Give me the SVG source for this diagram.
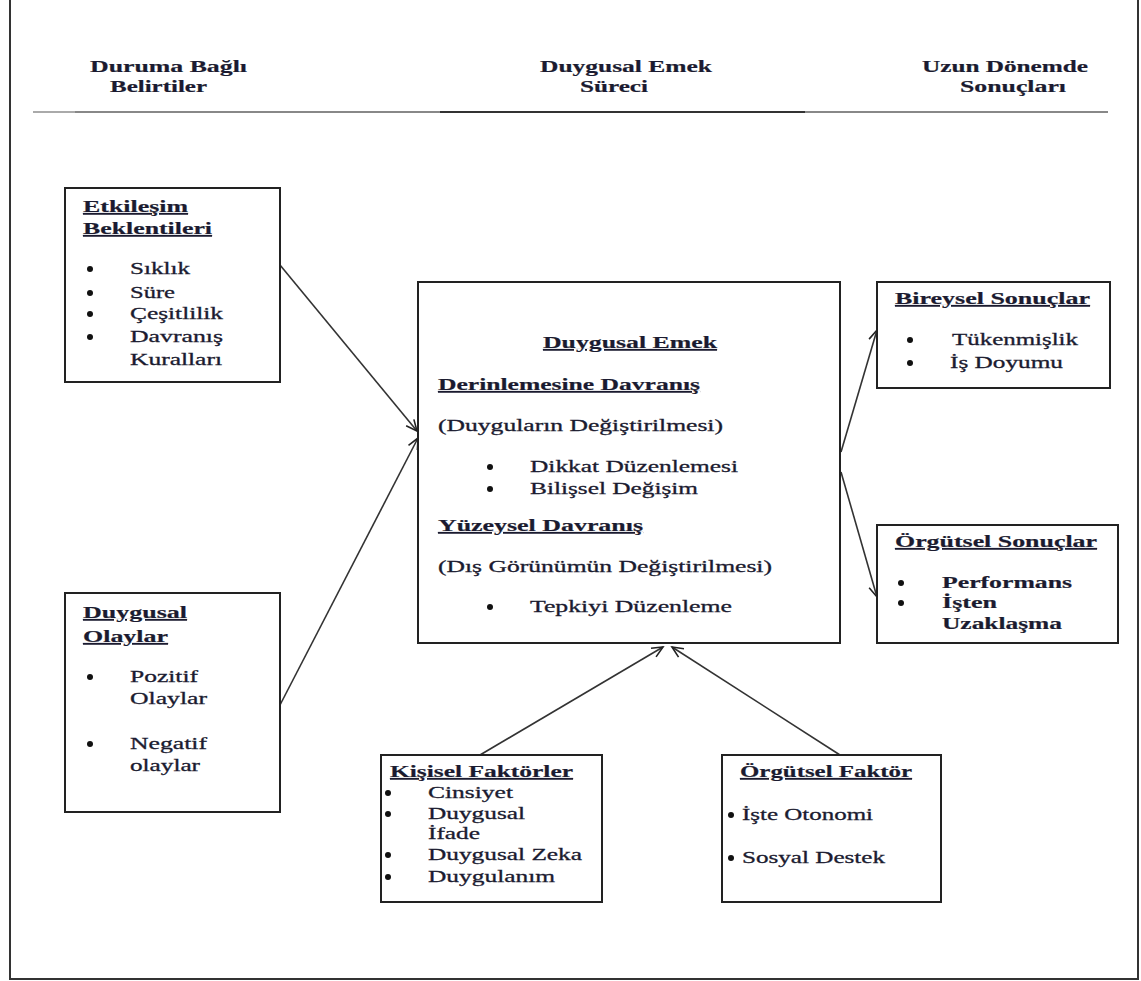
<svg xmlns="http://www.w3.org/2000/svg" width="1141" height="981" viewBox="0 0 1141 981">
  <style>
    .t { font-family: "Liberation Serif", "Times New Roman", serif; font-size: 17px; fill: #1b1b30; stroke: #1b1b30; stroke-width: 0.3; }
    .b { font-weight: bold; stroke-width: 0.2; }
    .u { font-weight: bold; text-decoration: underline; stroke-width: 0.2; }
    .box { fill: #ffffff; stroke: #222222; stroke-width: 2; }
    .conn { stroke: #333333; stroke-width: 1.6; fill: none; marker-end: url(#open); }
    .dot { fill: #111111; }
  </style>
  <defs>
    <marker id="open" markerUnits="userSpaceOnUse" markerWidth="16" markerHeight="14" refX="12" refY="6" orient="auto">
      <path d="M1,1 L12,6 L1,11" fill="none" stroke="#222222" stroke-width="1.6"/>
    </marker>
  </defs>

  <rect width="1141" height="981" fill="#ffffff"/>

  <!-- page frame -->
  <path d="M10,0 V979 H1138 V0" fill="none" stroke="#333333" stroke-width="2"/>

  <!-- column headings -->
  <g id="headings">
    <text class="t b" x="90" y="72" textLength="157" lengthAdjust="spacingAndGlyphs">Duruma Bağlı</text>
    <text class="t b" x="110" y="92" textLength="97" lengthAdjust="spacingAndGlyphs">Belirtiler</text>
    <text class="t b" x="540" y="72" textLength="172" lengthAdjust="spacingAndGlyphs">Duygusal Emek</text>
    <text class="t b" x="580" y="92" textLength="68" lengthAdjust="spacingAndGlyphs">Süreci</text>
    <text class="t b" x="922" y="72" textLength="166" lengthAdjust="spacingAndGlyphs">Uzun Dönemde</text>
    <text class="t b" x="960" y="92" textLength="106" lengthAdjust="spacingAndGlyphs">Sonuçları</text>
    <line x1="33" y1="112" x2="75" y2="112" stroke="#aaaaaa" stroke-width="2"/>
    <line x1="75" y1="112" x2="440" y2="112" stroke="#888888" stroke-width="2"/>
    <line x1="440" y1="112" x2="805" y2="112" stroke="#333333" stroke-width="2"/>
    <line x1="805" y1="112" x2="1108" y2="112" stroke="#888888" stroke-width="2"/>
  </g>

  <!-- connectors -->
  <g id="connectors">
    <line class="conn" x1="280" y1="265" x2="417" y2="431"/>
    <line class="conn" x1="280" y1="705" x2="418" y2="438"/>
    <line class="conn" x1="841" y1="452" x2="877" y2="330"/>
    <line class="conn" x1="841" y1="472" x2="877" y2="597"/>
    <line class="conn" x1="480" y1="755" x2="663" y2="647"/>
    <line class="conn" x1="840" y1="755" x2="672" y2="647"/>
  </g>

  <g id="etkilesim">
    <rect class="box" x="65" y="188" width="215" height="194"/>
    <text class="t u" x="83" y="212" textLength="105" lengthAdjust="spacingAndGlyphs">Etkileşim</text>
    <text class="t u" x="83" y="234" textLength="129" lengthAdjust="spacingAndGlyphs">Beklentileri</text>
    <circle class="dot" cx="90" cy="269" r="3"/>
    <circle class="dot" cx="90" cy="293" r="3"/>
    <circle class="dot" cx="90" cy="314" r="3"/>
    <circle class="dot" cx="90" cy="337" r="3"/>
    <text class="t" x="130" y="274" textLength="60" lengthAdjust="spacingAndGlyphs">Sıklık</text>
    <text class="t" x="130" y="298" textLength="45" lengthAdjust="spacingAndGlyphs">Süre</text>
    <text class="t" x="130" y="319" textLength="93" lengthAdjust="spacingAndGlyphs">Çeşitlilik</text>
    <text class="t" x="130" y="342" textLength="93" lengthAdjust="spacingAndGlyphs">Davranış</text>
    <text class="t" x="130" y="365" textLength="92" lengthAdjust="spacingAndGlyphs">Kuralları</text>
  </g>

  <g id="duygusal-olaylar">
    <rect class="box" x="65" y="593" width="215" height="219"/>
    <text class="t u" x="83" y="618" textLength="104" lengthAdjust="spacingAndGlyphs">Duygusal</text>
    <text class="t u" x="83" y="642" textLength="85" lengthAdjust="spacingAndGlyphs">Olaylar</text>
    <circle class="dot" cx="90" cy="677" r="3"/>
    <circle class="dot" cx="90" cy="744" r="3"/>
    <text class="t" x="130" y="682" textLength="68" lengthAdjust="spacingAndGlyphs">Pozitif</text>
    <text class="t" x="130" y="704" textLength="77" lengthAdjust="spacingAndGlyphs">Olaylar</text>
    <text class="t" x="130" y="749" textLength="77" lengthAdjust="spacingAndGlyphs">Negatif</text>
    <text class="t" x="130" y="771" textLength="70" lengthAdjust="spacingAndGlyphs">olaylar</text>
  </g>

  <g id="duygusal-emek">
    <rect class="box" x="418" y="282" width="422" height="361"/>
    <text class="t u" x="543" y="348" textLength="174" lengthAdjust="spacingAndGlyphs">Duygusal Emek</text>
    <text class="t u" x="438" y="390" textLength="262" lengthAdjust="spacingAndGlyphs">Derinlemesine Davranış</text>
    <text class="t" x="438" y="431" textLength="285" lengthAdjust="spacingAndGlyphs">(Duyguların Değiştirilmesi)</text>
    <circle class="dot" cx="490" cy="467" r="3"/>
    <circle class="dot" cx="490" cy="489" r="3"/>
    <text class="t" x="530" y="472" textLength="208" lengthAdjust="spacingAndGlyphs">Dikkat Düzenlemesi</text>
    <text class="t" x="530" y="494" textLength="168" lengthAdjust="spacingAndGlyphs">Bilişsel Değişim</text>
    <text class="t u" x="438" y="531" textLength="205" lengthAdjust="spacingAndGlyphs">Yüzeysel Davranış</text>
    <text class="t" x="438" y="572" textLength="334" lengthAdjust="spacingAndGlyphs">(Dış Görünümün Değiştirilmesi)</text>
    <circle class="dot" cx="490" cy="607" r="3"/>
    <text class="t" x="530" y="612" textLength="202" lengthAdjust="spacingAndGlyphs">Tepkiyi Düzenleme</text>
  </g>

  <g id="bireysel-sonuclar">
    <rect class="box" x="877" y="282" width="233" height="106"/>
    <text class="t u" x="895" y="304" textLength="195" lengthAdjust="spacingAndGlyphs">Bireysel Sonuçlar</text>
    <circle class="dot" cx="910" cy="340" r="3"/>
    <circle class="dot" cx="910" cy="363" r="3"/>
    <text class="t" x="952" y="345" textLength="126" lengthAdjust="spacingAndGlyphs">Tükenmişlik</text>
    <text class="t" x="950" y="368" textLength="113" lengthAdjust="spacingAndGlyphs">İş Doyumu</text>
  </g>

  <g id="orgutsel-sonuclar">
    <rect class="box" x="877" y="525" width="241" height="118"/>
    <text class="t u" x="895" y="547" textLength="202" lengthAdjust="spacingAndGlyphs">Örgütsel Sonuçlar</text>
    <circle class="dot" cx="901" cy="583" r="3"/>
    <circle class="dot" cx="901" cy="603" r="3"/>
    <text class="t b" x="942" y="588" textLength="130" lengthAdjust="spacingAndGlyphs">Performans</text>
    <text class="t b" x="942" y="608" textLength="55" lengthAdjust="spacingAndGlyphs">İşten</text>
    <text class="t b" x="942" y="629" textLength="120" lengthAdjust="spacingAndGlyphs">Uzaklaşma</text>
  </g>

  <g id="kisisel-faktorler">
    <rect class="box" x="381" y="755" width="221" height="147"/>
    <text class="t u" x="390" y="777" textLength="183" lengthAdjust="spacingAndGlyphs">Kişisel Faktörler</text>
    <circle class="dot" cx="388" cy="793" r="3"/>
    <circle class="dot" cx="388" cy="814" r="3"/>
    <circle class="dot" cx="388" cy="855" r="3"/>
    <circle class="dot" cx="388" cy="877" r="3"/>
    <text class="t" x="428" y="798" textLength="85" lengthAdjust="spacingAndGlyphs">Cinsiyet</text>
    <text class="t" x="428" y="819" textLength="97" lengthAdjust="spacingAndGlyphs">Duygusal</text>
    <text class="t" x="428" y="839" textLength="52" lengthAdjust="spacingAndGlyphs">İfade</text>
    <text class="t" x="428" y="860" textLength="154" lengthAdjust="spacingAndGlyphs">Duygusal Zeka</text>
    <text class="t" x="428" y="882" textLength="127" lengthAdjust="spacingAndGlyphs">Duygulanım</text>
  </g>

  <g id="orgutsel-faktor">
    <rect class="box" x="722" y="755" width="219" height="147"/>
    <text class="t u" x="740" y="777" textLength="172" lengthAdjust="spacingAndGlyphs">Örgütsel Faktör</text>
    <circle class="dot" cx="731" cy="815" r="3"/>
    <circle class="dot" cx="731" cy="858" r="3"/>
    <text class="t" x="742" y="820" textLength="131" lengthAdjust="spacingAndGlyphs">İşte Otonomi</text>
    <text class="t" x="742" y="863" textLength="143" lengthAdjust="spacingAndGlyphs">Sosyal Destek</text>
  </g>
</svg>
